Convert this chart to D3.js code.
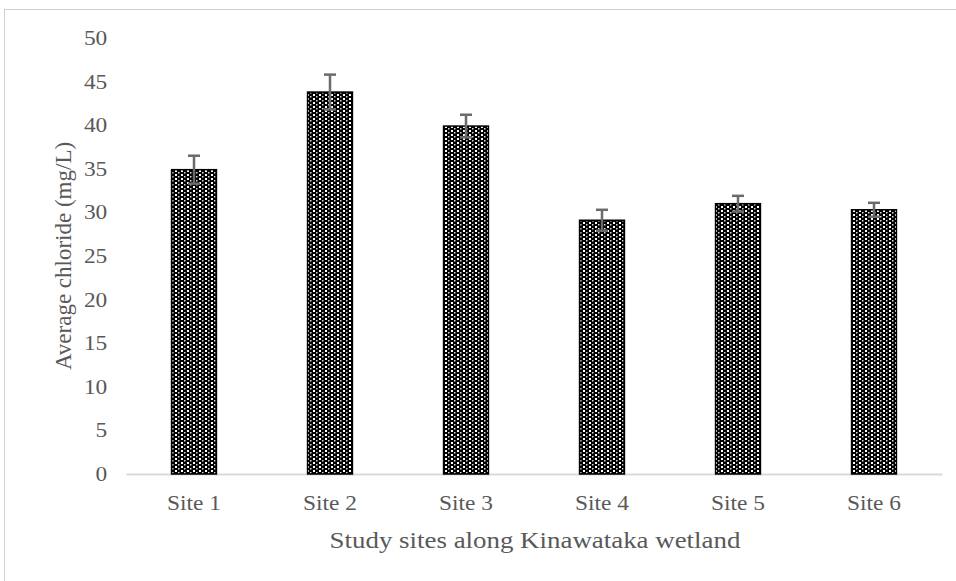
<!DOCTYPE html>
<html>
<head>
<meta charset="utf-8">
<script src="https://cdn.jsdelivr.net/npm/d3@7"></script>
<style>
  body { margin: 0; background: #fff; }
  text { font-family: "Liberation Serif", "Times New Roman", serif; }
</style>
</head>
<body>
<div id="chart"></div>
<script>
// data
const sites = ["Site 1", "Site 2", "Site 3", "Site 4", "Site 5", "Site 6"];
const chloride = [34.9, 43.8, 39.9, 29.1, 31.0, 30.3];
const errors = [1.6, 2.0, 1.3, 1.2, 0.9, 0.8];
const yTicks = [0, 5, 10, 15, 20, 25, 30, 35, 40, 45, 50];

const W = 956, H = 581;
const margin = {top: 38, right: 14, bottom: 107, left: 126},
width = W - margin.left - margin.right,
height = H - margin.top - margin.bottom;

// the original text is a bit wider than Liberation Serif
const stretch = 1.17;

const root = d3.select("#chart")
.append("svg")
.attr("width", W)
.attr("height", H);

// frame around the chart area
root.append("rect")
.attr("x", 4.5).attr("y", 9.5)
.attr("width", W).attr("height", H)
.attr("fill", "none")
.attr("stroke", "#d0d0d0");

const defs = root.append("defs");
const pat = defs.append("pattern")
.attr("id", "dots")
.attr("patternUnits", "userSpaceOnUse")
.attr("width", 6).attr("height", 4);
pat.append("rect").attr("width", 6).attr("height", 4).attr("fill", "#000");
pat.append("rect").attr("x", 1).attr("y", 0).attr("width", 2).attr("height", 2).attr("fill", "#fff");
pat.append("rect").attr("x", 4).attr("y", 2).attr("width", 1.5).attr("height", 1.5).attr("fill", "#ddd");

const svg = root.append("g")
.attr("transform", `translate(${margin.left}, ${margin.top})`);

const x = d3.scaleBand()
.domain(sites)
.range([0, width])
.paddingInner(0.67)
.paddingOuter(0.335);

const y = d3.scaleLinear()
.domain([0, 50])
.range([height, 0]);

// y axis (labels only)
const yAxis = svg.append("g")
.call(d3.axisLeft(y).tickValues(yTicks).tickSize(0).tickPadding(16));
yAxis.select(".domain").remove();
yAxis.selectAll("text")
.attr("fill", "#595959")
.style("font-size", "20px")
.attr("transform", `scale(${stretch},1)`);

// x axis
const xAxis = svg.append("g")
.attr("transform", `translate(0, ${height})`)
.call(d3.axisBottom(x).tickSize(0).tickPadding(22));
xAxis.select(".domain").attr("stroke", "#d9d9d9").attr("stroke-width", 2);
xAxis.selectAll("text")
.attr("fill", "#595959")
.style("font-size", "20px")
.attr("transform", `scale(${stretch},1)`);

// bars
svg.append("g")
.selectAll("rect")
.data(sites)
.join("rect")
  .attr("x", d => x(d))
  .attr("y", (d, i) => y(chloride[i]))
  .attr("width", x.bandwidth())
  .attr("height", (d, i) => height - y(chloride[i]))
  .attr("fill", "url(#dots)")
  .attr("stroke", "#000")
  .attr("stroke-width", 1.5);

// error bars
const eb = svg.append("g")
.attr("stroke", "#6b6b6b")
.attr("stroke-width", 2.5);
sites.forEach((s, i) => {
  const cx = x(s) + x.bandwidth() / 2;
  const lo = y(chloride[i] - errors[i]), hi = y(chloride[i] + errors[i]);
  eb.append("line").attr("x1", cx).attr("x2", cx).attr("y1", lo).attr("y2", hi);
  eb.append("line").attr("x1", cx - 6).attr("x2", cx + 6).attr("y1", hi).attr("y2", hi);
  eb.append("line").attr("x1", cx - 6).attr("x2", cx + 6).attr("y1", lo).attr("y2", lo);
});

// axis titles
svg.append("g")
.attr("transform", `translate(${width / 2 + 1}, ${height + 74}) scale(${stretch},1)`)
.append("text")
.attr("text-anchor", "middle")
.attr("fill", "#595959")
.style("font-size", "23px")
.text("Study sites along Kinawataka wetland");

svg.append("text")
.attr("transform", `translate(${-margin.left + 71}, ${height / 2}) rotate(-90)`)
.attr("text-anchor", "middle")
.attr("fill", "#595959")
.style("font-size", "23px")
.text("Average chloride (mg/L)");
</script>
</body>
</html>
